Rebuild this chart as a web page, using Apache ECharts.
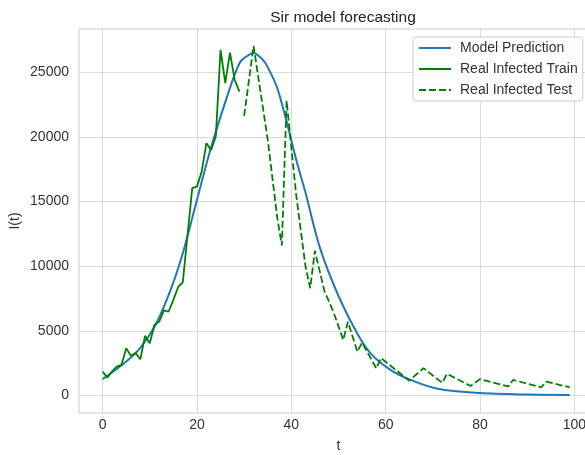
<!DOCTYPE html>
<html>
<head>
<meta charset="utf-8">
<script src="https://cdn.jsdelivr.net/npm/echarts@6/dist/echarts.min.js"></script>
<style>
    html, body { margin: 0; padding: 0; background: #fff; }
    #myChart { width: 585px; height: 455px; }
</style>
</head>
<body>
<div id="myChart"></div>
<script>
    // values
    let modelT = [0, 3, 6, 8, 11, 13, 15, 17, 20, 23, 27, 29, 30, 32, 34, 35, 37, 39, 41, 43, 46, 50, 54, 57, 61, 65, 71, 80, 90, 99];
    let modelVals = [1270, 2050, 2950, 3680, 5330, 6880, 8750, 11000, 15130, 19200, 23800, 25700, 26100, 26500, 25950, 25400, 23800, 21200, 18300, 15700, 11500, 7700, 4780, 3180, 1990, 1250, 520, 190, 80, 50];

    let trainT = [0, 1, 2, 3, 4, 5, 6, 7, 8, 9, 10, 11, 12, 13, 14, 15, 16, 17, 18, 19, 20, 21, 22, 23, 24, 25, 26, 27, 28, 29];
    let trainVals = [1860, 1390, 1860, 2240, 2370, 3660, 3070, 3280, 2810, 4620, 4050, 5470, 5720, 6580, 6500, 7400, 8380, 8770, 12400, 16040, 16160, 17320, 19520, 19000, 20030, 26740, 24160, 26530, 24420, 23510];

    let testT = [30, 32, 35, 37, 38, 39, 41, 43, 44, 45, 47, 49, 51, 52, 54, 55, 58, 59, 65, 68, 72, 73, 78, 80, 86, 87, 93, 94, 99];
    let testVals = [21630, 27040, 19800, 13800, 11600, 22800, 15600, 10000, 8300, 11200, 8100, 6400, 4300, 5700, 3400, 4100, 2100, 2900, 1150, 2120, 980, 1680, 740, 1270, 700, 1210, 640, 1080, 640];

    let xTicks = [0, 20, 40, 60, 80, 100];
    let yTicks = [0, 5000, 10000, 15000, 20000, 25000];

    function pairs(ts, vs) {
        return ts.map((t, i) => [t, vs[i]]);
    }

    let font = 'Liberation Sans, Arial, sans-serif';
    let gridColor = '#d9d9d9';
    let textColor = '#333';

    let option = {
        animation: false,
        textStyle: { fontFamily: font },
        title: {
            text: 'Sir model forecasting',
            left: 338,
            textAlign: 'center',
            top: 5,
            textStyle: { fontFamily: font, fontSize: 15.5, fontWeight: 'normal', color: '#222' }
        },
        legend: {
            orient: 'vertical',
            left: 413,
            top: 37,
            padding: [4, 5, 4, 5],
            itemWidth: 32,
            itemHeight: 14,
            itemGap: 7,
            backgroundColor: 'rgba(255,255,255,0.85)',
            borderColor: '#cccccc',
            borderWidth: 1,
            borderRadius: 3,
            itemStyle: { color: 'transparent', borderWidth: 0, opacity: 0 },
            textStyle: { fontFamily: font, fontSize: 14, color: textColor, padding: [0, 0, 0, 4] },
            data: ['Model Prediction', 'Real Infected Train', 'Real Infected Test']
        },
        grid: {
            left: 79,
            top: 29,
            bottom: 42,
            right: -13,
            outerBoundsMode: 'none',
            show: true,
            borderColor: '#cccccc',
            borderWidth: 1
        },
        xAxis: {
            type: 'value',
            min: -5,
            max: 105,
            name: 't',
            nameLocation: 'middle',
            nameGap: 26,
            nameMoveOverlap: false,
            nameTextStyle: { fontFamily: font, fontSize: 14, color: textColor },
            axisLine: { show: false },
            axisTick: { show: false, customValues: xTicks },
            axisLabel: { customValues: xTicks, margin: 5, fontFamily: font, fontSize: 14, color: textColor },
            splitLine: { show: true, lineStyle: { color: gridColor, width: 1 } }
        },
        yAxis: {
            type: 'value',
            min: -1350,
            max: 28350,
            name: 'I(t)',
            nameLocation: 'middle',
            nameGap: 57,
            nameMoveOverlap: false,
            nameTextStyle: { fontFamily: font, fontSize: 14, color: textColor },
            axisLine: { show: false },
            axisTick: { show: false, customValues: yTicks },
            axisLabel: {
                customValues: yTicks,
                margin: 10,
                fontFamily: font,
                fontSize: 14,
                color: textColor,
                formatter: v => String(v)
            },
            splitLine: { show: true, lineStyle: { color: gridColor, width: 1 } }
        },
        series: [{
            name: 'Model Prediction',
            type: 'line',
            smooth: 0.3,
            symbol: 'none',
            lineStyle: { color: '#2177b8', width: 2 },
            itemStyle: { color: '#2177b8' },
            data: pairs(modelT, modelVals)
        }, {
            name: 'Real Infected Train',
            type: 'line',
            symbol: 'none',
            lineStyle: { color: '#008000', width: 1.8 },
            itemStyle: { color: '#008000' },
            data: pairs(trainT, trainVals)
        }, {
            name: 'Real Infected Test',
            type: 'line',
            symbol: 'none',
            lineStyle: { color: '#008000', width: 1.8, type: [7, 3] },
            itemStyle: { color: '#008000' },
            data: pairs(testT, testVals)
        }]
    };

    let myChart = echarts.init(document.getElementById('myChart'));
    myChart.setOption(option);
</script>
</body>
</html>
